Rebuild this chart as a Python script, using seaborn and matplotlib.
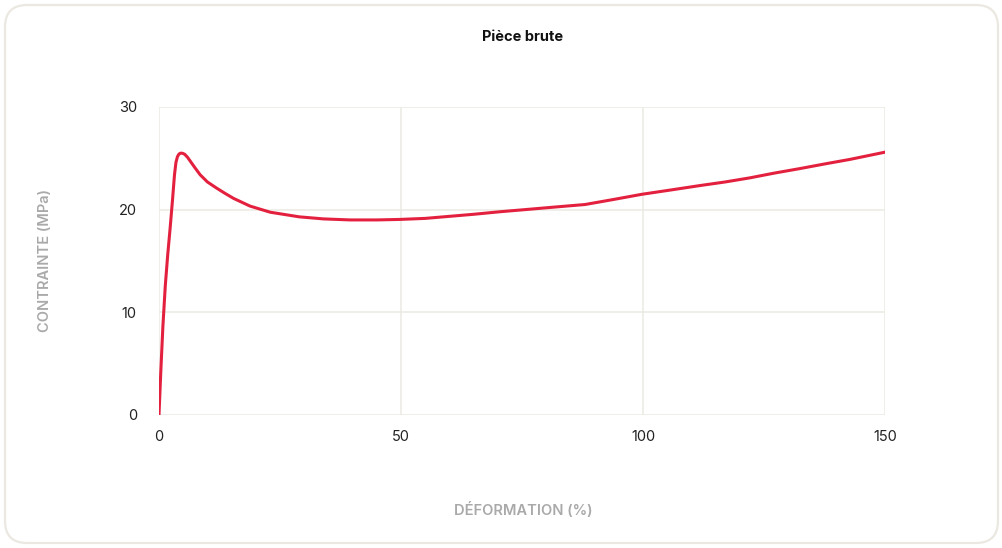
import matplotlib
matplotlib.use("Agg")
import matplotlib.pyplot as plt
from matplotlib.patches import FancyBboxPatch
import seaborn as sns
import pandas as pd

# Stress-strain curve of the raw part
deformation = [0.0, 0.35, 0.8, 1.3, 1.8, 2.3, 2.8, 3.2, 3.5, 3.8, 4.1, 4.4, 4.8, 5.3,
               5.9, 6.5, 7.4, 8.5, 10.0, 11.9, 13.6, 15.4, 18.8, 23.0, 29.0,
               34.0, 39.5, 45.0, 49.8, 55.0, 60.0, 65.0, 70.5, 75.5, 82.9,
               88.0, 94.0, 99.8, 105.5, 111.8, 117.0, 122.1, 127.0, 132.4,
               137.5, 142.8, 150.0]
contrainte = [0.0, 4.0, 8.6, 12.6, 15.6, 18.2, 21.0, 23.4, 24.6, 25.15, 25.4, 25.5, 25.5, 25.4,
              25.1, 24.7, 24.1, 23.4, 22.7, 22.1, 21.6, 21.1, 20.35, 19.75, 19.3,
              19.1, 19.0, 19.0, 19.05, 19.15, 19.35, 19.55, 19.8, 20.0, 20.3,
              20.5, 21.0, 21.5, 21.9, 22.35, 22.7, 23.1, 23.55, 24.0,
              24.45, 24.9, 25.6]
x_ticks = [0, 50, 100, 150]
y_ticks = [0, 10, 20, 30]

df = pd.DataFrame({"deformation": deformation, "contrainte": contrainte})

sns.set_theme(style="white")
plt.rcParams["font.family"] = ["Inter", "DejaVu Sans"]

fig = plt.figure(figsize=(10.03, 5.48), dpi=100)
fig.patch.set_facecolor("white")

# Rounded card frame
card = FancyBboxPatch((5 / 1003, 5 / 548), 993 / 1003, 538 / 548,
                      boxstyle="round,pad=0,rounding_size=0.022",
                      transform=fig.transFigure, facecolor="none",
                      edgecolor="#ebe8e1", linewidth=1.6,
                      mutation_aspect=1003 / 548, zorder=-1)
fig.patches.append(card)

ax = fig.add_axes([159 / 1003, 1 - 415 / 548, (885 - 159) / 1003, (415 - 107) / 548])
ax.set_facecolor("none")

sns.lineplot(data=df, x="deformation", y="contrainte", ax=ax,
             color="#e3213f", linewidth=2.2, sort=False, zorder=3)
ax.lines[-1].set_solid_joinstyle("round")
ax.lines[-1].set_solid_capstyle("round")

ax.set_xlim(0, 150)
ax.set_ylim(0, 30)
ax.set_xticks(x_ticks)
ax.set_yticks(y_ticks)
ax.grid(True, color="#ece9e3", linewidth=1.1)
for s in ax.spines.values():
    s.set_visible(False)
ax.tick_params(axis="both", length=0, labelsize=10.5, labelcolor="#222222")
ax.tick_params(axis="x", pad=11)
ax.tick_params(axis="y", pad=16)
ax.set_xlabel("")
ax.set_ylabel("")

fig.text(523 / 1003, 1 - 510 / 548, "DÉFORMATION (%)", ha="center", va="center",
         fontsize=10.5, color="#a9a9a9", fontweight="semibold")
fig.text(45 / 1003, 1 - 260 / 548, "CONTRAINTE (MPa)", ha="center", va="center",
         rotation=90, fontsize=10.5, color="#a9a9a9", fontweight="semibold")
fig.text(523 / 1003, 1 - 37 / 548, "Pièce brute", ha="center", va="center",
         fontsize=10.5, fontweight="bold", color="#111111")

fig.savefig("out.png", dpi=100, facecolor="white")
